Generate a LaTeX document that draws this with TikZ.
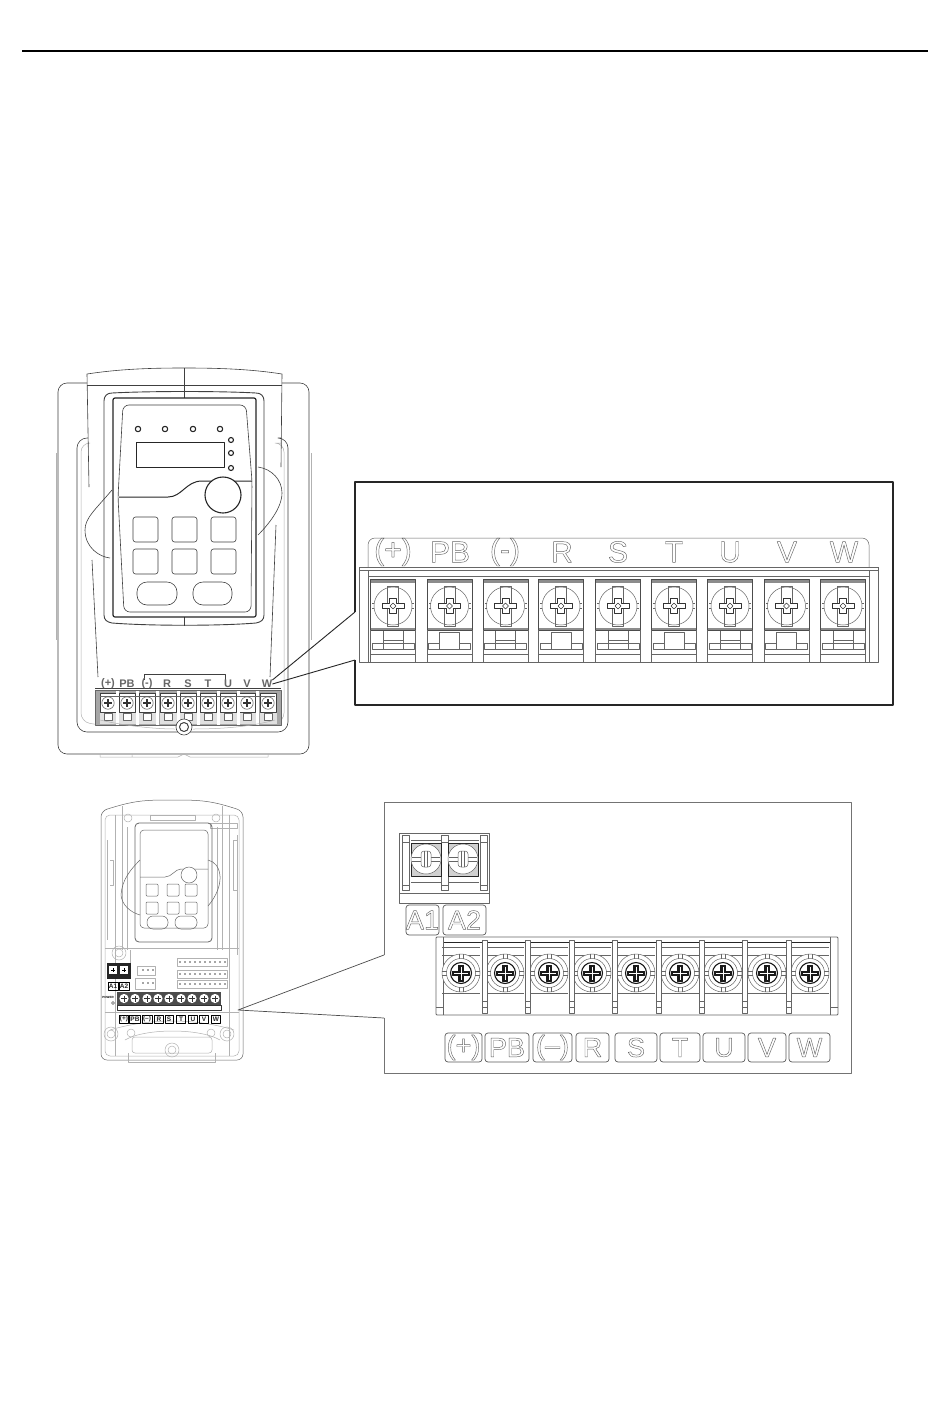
\documentclass[tikz,border=0pt]{standalone}
\usepackage{fontspec}
\setmainfont{Liberation Sans}
\newcommand{\outl}[1]{\special{pdf:code 1 Tr 0.45 w}#1\special{pdf:code 0 Tr}}
\colorlet{ln}{black!75}
\colorlet{fa}{black!30}
\begin{document}
\begin{tikzpicture}[x=1pt,y=-1pt,line join=round,
  dev/.style={draw=ln,line width=.6pt},
  thick1/.style={draw=black!85,line width=1.2pt},
  faint/.style={draw=fa,line width=.5pt},
  thin1/.style={draw=black!60,line width=.5pt},
  biglab/.style={inner sep=0pt,text=black!60,font=\fontsize{30}{30}\selectfont},
  midlab/.style={inner sep=0pt,text=black!60,font=\fontsize{27}{27}\selectfont},
  smalllab/.style={inner sep=0pt,text=black!60,font=\bfseries\fontsize{11}{11}\selectfont},
  tinylab/.style={inner sep=0pt,text=black!85,font=\bfseries\fontsize{6.5}{7}\selectfont},
  labbox/.style={draw=black!65,line width=.7pt,rounded corners=3pt,inner sep=0pt}]
\useasboundingbox (0,0) rectangle (950,1424);
\fill[white] (0,0) rectangle (950,1424);
% top rule
\draw[black,line width=2.4pt] (22,51) -- (928,51);

%%%%%% upper device
\draw[dev,rounded corners=9pt] (87,383) -- (58,383) -- (58,754) -- (309,754) -- (309,383) -- (282,383);
\draw[faint] (56,453) -- (56,640) (311,453) -- (311,640);
\draw[faint] (100,754) -- (100,757) -- (132,757) -- (132,754) (132,757) -- (178,757) -- (184,754) -- (190,757) -- (236,757) -- (268,757) -- (268,754);
% inner body
\draw[dev,rounded corners=10pt] (88,438) -- (77,438) -- (77,732) -- (288,732) -- (288,438) -- (281,438);
\draw[faint,rounded corners=9pt] (88,443) -- (81,443) -- (81,722) -- (100,725) (265,725) -- (284,722) -- (284,443) -- (281,443);
% cover
\draw[dev] (89,487) -- (87,374) .. controls (120,369) and (150,368) .. (184,368) .. controls (218,368) and (250,369) .. (282,374) -- (281,467);
\draw[dev] (92,560) -- (98,677);
\draw[dev] (87,385) -- (282,385);
\draw[dev] (276,525) -- (270,677);
\draw[dev] (184,368) -- (184,398);
\draw[dev] (184,617) -- (184,626);
% keypad frame
\draw[dev,line width=.9pt] (112,393) .. controls (150,391) and (220,391) .. (256,393) .. controls (261,393) and (264,396) .. (264,401) -- (264,615) .. controls (264,620) and (261,622) .. (256,623) .. controls (220,626) and (150,626) .. (112,623) .. controls (107,622) and (104,620) .. (104,615) -- (104,401) .. controls (104,396) and (107,393) .. (112,393) -- cycle;
\draw[thick1,rounded corners=2pt] (113,398) rectangle (256,617);
\draw[dev,rounded corners=6pt] (123,405) -- (246,405) -- (252,481) -- (251,612) -- (124,612) -- (118,497) -- cycle;
% handles
\draw[dev] (112,490) .. controls (95,510) and (85,518) .. (85,530) .. controls (85,548) and (100,557) .. (110,558);
\draw[dev] (258,467) .. controls (272,469) and (282,480) .. (282,493) .. controls (282,508) and (268,525) .. (258,535);
% LEDs
\foreach \x in {138,165,193,220} \draw[line width=1.1pt,draw=black!85] (\x,429) circle (2.7);
\foreach \y in {440,453,468} \draw[line width=1.1pt,draw=black!85] (231,\y) circle (2.5);
\draw[line width=1pt,draw=black!85] (136,442) rectangle (224,467);
% divider and knob
\draw[line width=1pt,draw=black!85] (119,497) -- (168,497) .. controls (182,497) and (186,481) .. (202,481) -- (252,481);
\draw[fill=white,line width=1.1pt,draw=black!85] (223,495) circle (18);
% buttons
\foreach \x in {133,172,211} \foreach \y in {517,549}
  \draw[dev,rounded corners=2.5pt] (\x,\y) rectangle ++(25,25);
\draw[dev,rounded corners=10pt] (137,582) rectangle (177,605);
\draw[dev,rounded corners=10pt] (193,582) rectangle (232,605);
% upper strip
\draw[dev] (144,680) -- (144,674) -- (225,674) -- (225,680);
\draw[dev] (95,688) -- (281,688);
\fill[black!35] (95,690) rectangle (281,725);
\foreach \i/\x in {1/108,2/127,3/147,4/168,5/188,6/208,7/228,8/247,9/268}{
  \fill[black!12] (\x-8.5,712) rectangle (\x+8.5,724);
  \fill[white] (\x-8,693) rectangle (\x+8,712);
  \draw[ln,line width=.7pt] (\x-8,693) rectangle (\x+8,712);
  \draw[black!60,line width=.6pt] (\x,703) circle (6.2);
  \draw[black!80,line width=1.1pt] (\x-3.6,703) -- (\x+3.6,703) (\x,699.4) -- (\x,706.6);
  \draw[thin1,fill=white] (\x-4,713) rectangle (\x+4,720);
}
\foreach \x in {117.5,137,157.5,178,198,218,238,257.5}
  \fill[white] (\x-1.5,690) rectangle (\x+1.5,725);
\draw[thin1] (95,690) rectangle (281,725);
\draw[thin1] (100,696) -- (275,696);
\draw[faint] (100,720) .. controls (130,727) and (160,729) .. (175,729) (193,729) .. controls (220,729) and (250,727) .. (275,720);
\draw[dev,fill=white] (184,727) circle (8);
\draw[dev,line width=1pt] (184,727) circle (4.5);
% labels on upper device
\node[smalllab] (ua) at (108,684) {(+)};
\node[smalllab] (ub) at (127,684) {PB};
\node[smalllab] (uc) at (147,684) {(-)};
\node[smalllab] (ud) at (167,684) {R};
\node[smalllab] (ue) at (188,684) {S};
\node[smalllab] (uf) at (208,684) {T};
\node[smalllab] (ug) at (228,684) {U};
\node[smalllab] (uh) at (247,684) {V};
\node[smalllab] (ui) at (267,684) {W};

%%%%%% upper detail
\coordinate (ftop) at (355,612);
\coordinate (fbot) at (355,660);
\draw[black!85,line width=1.3pt] (ftop) -- (355,482) -- (893,482) -- (893,705) -- (355,705) -- (fbot);
\draw[black!85,line width=.9pt] (ftop) -- (ui.north east);
\draw[black!85,line width=.9pt] (fbot) -- (ui.east);
\draw[thin1,rounded corners=7pt] (368,567) -- (368,538) -- (869,538) -- (869,567);
\draw[thin1] (359,567) -- (878,567) (359,570) -- (878,570) (359,567) -- (359,662) -- (878,662) -- (878,567);
\draw[thin1] (368,570) -- (368,662) (869,570) -- (869,662);
\draw[thin1] (368,576) -- (869,576);
\foreach \i/\x in {1/393,2/449.5,3/505.5,4/561,5/618,6/674,7/730,8/786.5,9/843}{
  \fill[black!45] (\x-22.5,579) rectangle (\x+22.5,583);
  \fill[black!45] (\x-22.5,628) rectangle (\x+22.5,631);
  \draw[black!70,line width=.7pt] (\x-22.5,579) rectangle (\x+22.5,630);
  \draw[thin1] (\x,606) circle (19);
  \draw[thin1] (\x-5.5,586) -- (\x-5.5,626) -- (\x+5.5,626) -- (\x+5.5,586) -- cycle;
  \draw[thin1] (\x-19,603.5) -- (\x-21,603.5) (\x-19,608.5) -- (\x-21,608.5) (\x+19,603.5) -- (\x+21,603.5) (\x+19,608.5) -- (\x+21,608.5);
  \draw[black!80,fill=white,line width=.7pt] (\x-11,603.5) -- (\x-3.5,603.5) -- (\x-3.5,598.5) -- (\x+3.5,598.5) -- (\x+3.5,603.5) -- (\x+11,603.5) -- (\x+11,608.5) -- (\x+3.5,608.5) -- (\x+3.5,613.5) -- (\x-3.5,613.5) -- (\x-3.5,608.5) -- (\x-11,608.5) -- cycle;
  \draw[black!80,line width=.6pt] (\x-3,606) -- (\x,603) -- (\x+3,606) -- (\x,609) -- cycle;
  \draw[thin1] (\x-21,643) rectangle (\x+21,649);
  \draw[thin1] (\x-22.5,630) -- (\x-22.5,662) (\x+22.5,630) -- (\x+22.5,662) (\x-22.5,654) -- (\x+22.5,654);
}
\foreach \x in {449.5,561,674,786.5}{\draw[thin1,fill=white] (\x-10,632) rectangle (\x+10,649);}
\foreach \x in {393,505.5,618,730,843}{\draw[thin1] (\x-10,631) -- (\x-10,649) (\x+10,631) -- (\x+10,649) (\x-10,640) -- (\x+10,640);}
\node[biglab] (ba) at (393,552) {\outl{(+)}};
\node[biglab] (bb) at (450,552) {\outl{PB}};
\node[biglab] (bc) at (505,552) {\outl{(-)}};
\node[biglab] (bd) at (562,552) {\outl{R}};
\node[biglab] (be) at (618,552) {\outl{S}};
\node[biglab] (bf) at (674,552) {\outl{T}};
\node[biglab] (bg) at (730,552) {\outl{U}};
\node[biglab] (bh) at (787,552) {\outl{V}};
\node[biglab] (bi) at (844,552) {\outl{W}};

%%%%%% lower device
\draw[thin1,rounded corners=6pt] (101,811) .. controls (130,802) and (140,800) .. (172,800) .. controls (205,800) and (215,802) .. (243,811) -- (243,1060) -- (101,1060) -- cycle;
\draw[faint,rounded corners=5pt] (105,815) rectangle (239,1056);
\draw[faint] (115,815) -- (115,1056) (229,815) -- (229,1056) (122,806) -- (122,950) (222,806) -- (222,950);
\draw[faint] (107,840) -- (107,940) (110,860) -- (113,860) -- (113,885) -- (110,885) (237,835) -- (237,955) (233,840) rectangle (237,890);
\draw[faint] (105,948) -- (239,948) (105,1012) -- (239,1012);
\draw[faint] (127,827) -- (127,950) (217,827) -- (217,950) (130,950) -- (130,965);
\draw[faint] (150,815) rectangle (195,820);
\draw[faint] (210,823) rectangle (237,828);
\draw[faint] (128,1053) -- (128,1062) -- (215,1062) -- (215,1053);
\draw[faint] (110,1030) .. controls (150,1018) and (195,1018) .. (234,1030);
\draw[faint] (125,1040) .. controls (145,1028) and (200,1028) .. (220,1040);
\draw[faint,rounded corners=3pt] (132,1037) rectangle (212,1053);
\foreach \p in {(128,818),(216,818),(131,1033),(211,1033),(172,1050),(111,1034),(227,1034),(119,953)}
  \draw[faint] \p circle (4);
\foreach \p in {(111,1034),(227,1034),(172,1050),(119,953)}
  \draw[faint] \p circle (7);
\draw[thin1,rounded corners=4pt,line width=.8pt] (135,823) rectangle (212,942);
\draw[thin1,rounded corners=4pt] (140,830) rectangle (208,928);
\draw[thin1] (121,895) .. controls (122,880) and (130,870) .. (140,860) (208,860) .. controls (222,863) and (226,885) .. (208,906) (121,895) .. controls (122,905) and (130,912) .. (140,915);
\draw[thin1] (140,877) -- (165,877) .. controls (172,877) and (175,869) .. (181,869) -- (208,869);
\draw[thin1,fill=white] (189,875) circle (8);
\foreach \x in {146,167,185} \foreach \y in {884,902}
  \draw[thin1,rounded corners=1pt] (\x,\y) rectangle ++(12,12);
\draw[thin1,rounded corners=6pt] (147,916) rectangle (168,929);
\draw[thin1,rounded corners=6pt] (175,916) rectangle (197,929);
\foreach \y in {958,970,980}{\draw[faint] (177,\y) rectangle (227,\y+8);}
\foreach \x in {179,184,189,194,199,204,209,214,219,224}{\foreach \y in {961,973,983}\fill[black!35] (\x,\y) rectangle ++(2,2);}
\draw[faint] (137,966) rectangle (155,975) (135,978) rectangle (155,989);
\foreach \x in {142,147,152}{\fill[black!35] (\x,969) rectangle ++(2,2);\fill[black!35] (\x,982) rectangle ++(2,2);}
% A1 A2 block small
\fill[black!85] (107,963) rectangle (131,979);
\foreach \x in {113,124}{\fill[white] (\x-4,966) rectangle (\x+4,974);\draw[black,line width=1pt] (\x-2,970) -- (\x+2,970) (\x,968) -- (\x,972);}
\node[tinylab,draw=black,line width=.6pt,inner xsep=1pt,minimum height=8pt] (sa1) at (113,986) {A1};
\node[tinylab,draw=black,line width=.6pt,inner xsep=1pt,minimum height=8pt] (sa2) at (124,986) {A2};
% main strip small
\fill[black!70] (117,992) rectangle (221,1005);
\draw[black!80,line width=.6pt] (117,1005) -- (221,1005) -- (221,1010) -- (117,1010) -- cycle;
\foreach \x in {124,135,147,158,169,181,192,204,215}{
  \fill[white] (\x,998.5) circle (4.6);
  \draw[black!80,line width=1pt] (\x-3,998.5) -- (\x+3,998.5) (\x,995.5) -- (\x,1001.5);
  \fill[white] (\x-4,1005.5) rectangle (\x+4,1009.5);
}
\node[inner sep=0pt,font=\bfseries\fontsize{3}{3}\selectfont] (pw) at (108,997) {POWER};
\draw[black!70,line width=.5pt] (113,1003) circle (1.5);
\foreach \n/\x/\w/\t in {a/124/9/(+),b/135/11/PB,c/147/10/(--),d/159/9/R,e/169/8/S,f/181/9/T,g/193/9/U,h/204/9/V,i/216/9/W}
  \node[tinylab,draw=black,line width=.6pt,minimum width=\w pt,minimum height=8pt] (s\n) at (\x,1019) {\t};
% lower detail frame
\coordinate (dtop) at (384,955);
\coordinate (dbot) at (384,1018);
\coordinate (dsrc) at (238,1010);
\draw[black!55,line width=.8pt] (dtop) -- (384,802) -- (851,802) -- (851,1073) -- (384,1073) -- (dbot);
\draw[black!70,line width=.7pt] (dtop) -- (dsrc) -- (dbot);
% A block
\draw[thin1,line width=.7pt] (399,833) rectangle (489,903);
\draw[thin1] (399,893) -- (489,893) (411,882) -- (479,882) (411,840) -- (479,840);
\foreach \x in {402,441,480}{\draw[thin1,fill=white] (\x,835) rectangle ++(7,55);
  \draw[thin1] (\x,842) -- (\x+7,842) (\x,885) -- (\x+7,885);}
\foreach \x in {426,463}{
  \draw[black!85,fill=black!18,line width=.8pt] (\x-15,843) rectangle (\x+15,876);
  \draw[thin1,fill=white] (\x,859) circle (15);
  \draw[thin1] (\x-14,857) -- (\x+14,857) (\x-14,861) -- (\x+14,861);
  \draw[thin1,fill=white,rounded corners=3pt] (\x-5,851) rectangle (\x+5,867);
  \draw[thin1] (\x-1.5,851) -- (\x-1.5,867) (\x+1.5,851) -- (\x+1.5,867);
}
\node[labbox,minimum width=33pt,minimum height=30pt] (lA1) at (422.5,920) {};
\node[labbox,minimum width=43pt,minimum height=30pt] (lA2) at (464.5,920) {};
\node[midlab] at (lA1) {\outl{A1}};
\node[midlab] at (lA2) {\outl{A2}};
% main block
\draw[thin1,line width=.8pt,rounded corners=1pt] (436,937) rectangle (838,1015);
\draw[black!85,line width=.9pt] (443,942) -- (830,942);
\draw[thin1] (443,937) -- (443,1015) (436,1007) -- (443,1007) (830,937) -- (830,1015) (838,1007) -- (830,1007);
\foreach \x in {461,505,549,592,636,680,723,767,810}{
  \draw[thin1] (\x-19,947) -- (\x+19,947) (\x-19,955) -- (\x+19,955) (\x-19,993) -- (\x+19,993);
  \draw[thin1,fill=white] (\x,973) circle (19);
  \draw[thin1] (\x-19,971) -- (\x-14,971) (\x-19,975) -- (\x-14,975) (\x+14,971) -- (\x+19,971) (\x+14,975) -- (\x+19,975)
     (\x-2,954) -- (\x-2,959) (\x+2,954) -- (\x+2,959) (\x-2,987) -- (\x-2,992) (\x+2,987) -- (\x+2,992);
  \draw[black!60,line width=.5pt] (\x,973) circle (14.5);
  \draw[black!90,line width=1.1pt] (\x,973) circle (10.5);
  \draw[black!90,fill=black!90] (\x-8.5,971) -- (\x-2.5,971) -- (\x-2.5,965) -- (\x+2.5,965) -- (\x+2.5,971) -- (\x+8.5,971) -- (\x+8.5,975) -- (\x+2.5,975) -- (\x+2.5,981) -- (\x-2.5,981) -- (\x-2.5,975) -- (\x-8.5,975) -- cycle;
  \draw[white,line width=.5pt] (\x-7,973) -- (\x+7,973) (\x,966.5) -- (\x,979.5);
}
\foreach \x in {485,528,572,615,659,702,745,789}{
  \draw[thin1,fill=white] (\x-2.5,940) rectangle (\x+2.5,1013);
  \draw[thin1] (\x-2.5,1007) -- (\x+2.5,1007) (\x-2.5,1001) -- (\x+2.5,1001);
}
\foreach \n/\x/\w/\t in {a/463.5/37/(+),b/507/44/PB,c/552.5/39/(--),d/592.5/33/R,e/636/42/S,f/680/40/T,g/724/42/U,h/767/38/V,i/809.5/41/W}{
  \node[labbox,minimum width=\w pt,minimum height=29pt] (L\n) at (\x,1047.5) {};
  \node[midlab] at (L\n) {\outl{\t}};
}
\end{tikzpicture}
\end{document}
